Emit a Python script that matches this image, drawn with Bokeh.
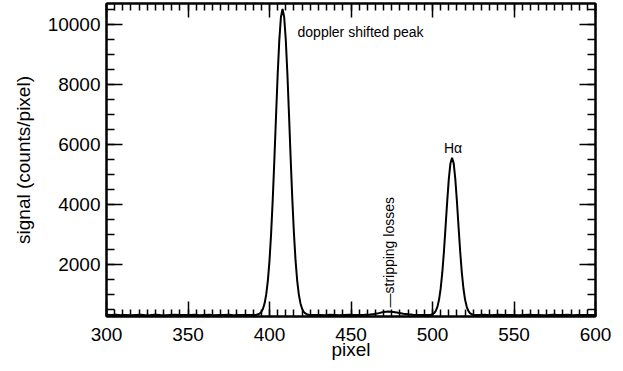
import math
from bokeh.plotting import figure
from bokeh.models import LinearAxis, SingleIntervalTicker, Range1d, Label, CustomJSTickFormatter
from bokeh.embed import file_html
from bokeh.resources import INLINE

# ---- data ----
base_left_px = [300, 303, 306, 309, 312, 315, 318, 321, 324, 327, 330, 333, 336, 339, 342,
                345, 348, 351, 354, 357, 360, 363, 366, 369, 372, 375, 378, 381, 384, 387, 390]
base_left_sig = [305, 298, 310, 296, 303, 292, 300, 308, 295, 302, 312, 297, 290, 301, 306,
                 296, 303, 298, 309, 294, 300, 305, 293, 302, 299, 307, 295, 301, 297, 304, 300]

peak1_px = list(range(391, 426))
peak1_sig = [302, 308, 322, 349, 404, 510, 690, 988, 1450, 2115, 3025, 4170, 5505, 6930,
             8310, 9460, 10240, 10520, 10250, 9475, 8320, 6940, 5500, 4160, 3015, 2105,
             1440, 982, 686, 506, 405, 352, 326, 311, 304]

base_mid_px = [428, 431, 434, 437, 440, 443, 446, 449, 452, 455, 458, 461, 464, 467, 470,
               473, 476, 479, 482, 485, 488, 491, 494, 497]
base_mid_sig = [298, 303, 295, 306, 300, 294, 302, 308, 297, 301, 305, 312, 330, 362, 398,
                415, 400, 372, 345, 322, 308, 299, 304, 300]

peak2_px = list(range(498, 527))
peak2_sig = [303, 311, 327, 362, 437, 571, 808, 1178, 1712, 2404, 3232, 4078, 4838, 5360,
             5550, 5362, 4834, 4082, 3228, 2406, 1708, 1176, 806, 573, 435, 364, 326, 312, 304]

base_right_px = [529, 532, 535, 538, 541, 544, 547, 550, 553, 556, 559, 562, 565, 568, 571,
                 574, 577, 580, 583, 586, 589, 592, 595, 598, 600]
base_right_sig = [298, 305, 293, 301, 307, 296, 300, 304, 292, 299, 306, 297, 303, 295, 301,
                  308, 296, 300, 305, 294, 302, 298, 304, 297, 301]

pixel = base_left_px + peak1_px + base_mid_px + peak2_px + base_right_px
signal = base_left_sig + peak1_sig + base_mid_sig + peak2_sig + base_right_sig

x_start, x_end = 300, 600
y_start, y_end = 250, 10700

FONT = "Liberation Sans"

p = figure(width=620, height=368, x_range=Range1d(x_start, x_end),
           y_range=Range1d(y_start, y_end), output_backend="svg",
           toolbar_location=None, x_axis_type=None, y_axis_type=None,
           min_border_left=106, min_border_right=25, min_border_top=3,
           min_border_bottom=52)
p.outline_line_color = "black"
p.outline_line_width = 2
p.background_fill_color = "white"
p.border_fill_color = "white"

blank = CustomJSTickFormatter(code="return '';")


def style_axis(ax, show_labels):
    ax.axis_line_color = "black"
    ax.axis_line_width = 2
    ax.major_tick_line_color = "black"
    ax.major_tick_line_width = 1.5
    ax.minor_tick_line_color = "black"
    ax.minor_tick_line_width = 1.5
    ax.major_tick_out = 0
    ax.minor_tick_out = 0
    ax.major_tick_in = 15
    ax.minor_tick_in = 7
    if show_labels:
        ax.major_label_text_font = FONT
        ax.major_label_text_font_size = "19px"
        ax.major_label_text_color = "black"
        ax.axis_label_text_font = FONT
        ax.axis_label_text_font_size = "19px"
        ax.axis_label_text_font_style = "normal"
        ax.axis_label_text_color = "black"
    else:
        ax.formatter = blank
        ax.major_label_standoff = 0
        ax.axis_label = None


xt = SingleIntervalTicker(interval=50, num_minor_ticks=10)
yt = SingleIntervalTicker(interval=2000, num_minor_ticks=4)

xb = LinearAxis(ticker=xt, axis_label="pixel")
style_axis(xb, True)
xb.major_label_standoff = 11
xb.axis_label_standoff = -5
p.add_layout(xb, "below")

xtop = LinearAxis(ticker=xt)
style_axis(xtop, False)
xtop.major_tick_in = 14
p.add_layout(xtop, "above")

yl = LinearAxis(ticker=yt, axis_label="signal (counts/pixel)")
style_axis(yl, True)
yl.major_tick_in = 16
yl.minor_tick_in = 8
yl.major_label_standoff = 6
yl.axis_label_standoff = 11
p.add_layout(yl, "left")

yr = LinearAxis(ticker=yt)
style_axis(yr, False)
yr.major_tick_in = 16
yr.minor_tick_in = 8
p.add_layout(yr, "right")

p.line(pixel, signal, line_color="black", line_width=2)

p.add_layout(Label(x=417.2, y=9740, text="doppler shifted peak", text_font=FONT,
                   text_font_size="14px", text_color="black",
                   text_baseline="alphabetic", text_align="left"))
p.add_layout(Label(x=512.6, y=5890, text="Hα", text_font=FONT,
                   text_font_size="14px", text_color="black",
                   text_baseline="alphabetic", text_align="center"))
p.add_layout(Label(x=473.3, y=550, text="—stripping losses", text_font=FONT,
                   text_font_size="14px", text_color="black", angle=math.pi / 2,
                   text_baseline="middle", text_align="left"))

open("out.html", "w").write(file_html(p, INLINE))
